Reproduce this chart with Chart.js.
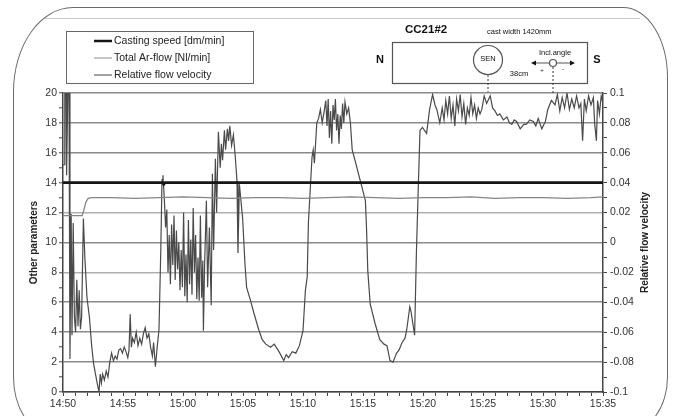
<!DOCTYPE html>
<html>
<head>
<meta charset="utf-8">
<script src="https://cdn.jsdelivr.net/npm/chart.js@4/dist/chart.umd.min.js"></script>
<style>
  html, body { margin: 0; padding: 0; background: #fff; }
  #wrap { position: relative; width: 673px; height: 416px; overflow: hidden; }
  #frame { position: absolute; left: 13px; top: 7px; width: 655px; height: 425px;
    border: 1.3px solid #6a6a6a; border-radius: 60px 45px 40px 35px / 85px 70px 55px 55px; box-sizing: border-box; }
  #topline { position: absolute; left: 45px; top: 18px; width: 595px; height: 0; border-top: 1px solid #c8c8c8; }
  canvas { position: absolute; left: 0; top: 0; }
</style>
</head>
<body>
<div id="wrap">
  <div id="frame"></div>
  <div id="topline"></div>
  <canvas id="c" width="673" height="416"></canvas>
</div>
<script>
// ---- data (minutes after 14:50) ----
const timeLabels = ['14:50','14:55','15:00','15:05','15:10','15:15','15:20','15:25','15:30','15:35'];
const seriesNames = ['Casting speed [dm/min]', 'Total Ar-flow [Nl/min]', 'Relative flow velocity'];

const castTime  = [0, 8.3, 8.4, 8.5, 20, 30, 45];
const castSpeed = [14, 14, 13.9, 14, 14, 14, 14];

const arTime = [0, 1.6, 1.75, 1.9, 2.1, 2.4, 4, 6, 8, 10, 12, 14, 16, 18, 20, 22, 24, 26, 28, 30, 32, 34, 36, 38, 40, 42, 44, 45];
const arFlow = [11.8, 11.8, 12.2, 12.7, 12.95, 13.0, 13.0, 12.95, 13.0, 13.05, 13.0, 12.95, 13.0, 13.0, 12.95, 13.0, 13.05, 13.0, 12.95, 13.0, 13.0, 13.05, 12.95, 13.0, 13.0, 12.95, 13.0, 13.05];

const velTime = [0.00,0.10,0.15,0.25,0.30,0.40,0.50,0.58,0.68,0.75,0.85,0.95,1.05,1.15,1.25,1.35,1.45,1.55,1.70,1.82,2.00,2.20,2.40,2.55,2.80,3.00,3.10,3.20,3.30,3.45,3.60,3.75,3.90,4.05,4.20,4.35,4.50,4.65,4.80,4.95,5.10,5.25,5.40,5.50,5.60,5.70,5.80,5.95,6.10,6.25,6.40,6.55,6.70,6.85,7.00,7.15,7.30,7.45,7.55,7.70,7.85,8.00,8.15,8.25,8.33,8.45,8.55,8.65,8.75,8.85,8.95,9.05,9.15,9.25,9.35,9.45,9.55,9.65,9.75,9.85,9.95,10.05,10.15,10.25,10.35,10.45,10.55,10.65,10.75,10.85,10.95,11.05,11.15,11.25,11.35,11.45,11.55,11.65,11.70,11.80,11.95,12.05,12.20,12.35,12.45,12.55,12.70,12.80,12.95,13.10,13.20,13.30,13.45,13.55,13.70,13.80,13.90,14.05,14.20,14.35,14.50,14.58,14.70,14.97,15.17,15.30,15.60,15.90,16.30,16.60,16.90,17.30,17.60,18.00,18.40,18.60,18.80,19.10,19.40,19.70,20.00,20.20,20.35,20.45,20.60,20.75,20.85,20.95,21.15,21.30,21.45,21.60,21.75,21.90,22.00,22.10,22.20,22.30,22.40,22.50,22.60,22.70,22.80,22.90,23.00,23.10,23.20,23.30,23.40,23.50,23.65,23.80,23.95,24.10,24.30,24.75,25.20,25.30,25.40,25.60,26.00,26.40,26.75,27.00,27.25,27.50,27.80,28.00,28.25,28.50,28.65,28.90,29.00,29.15,29.30,29.45,29.60,29.75,29.95,30.30,30.55,30.80,31.00,31.15,31.40,31.60,31.75,31.90,32.05,32.20,32.35,32.50,32.65,32.80,32.95,33.10,33.25,33.40,33.55,33.70,33.85,34.00,34.15,34.30,34.45,34.60,34.75,34.90,35.10,35.30,35.60,35.80,36.00,36.20,36.40,36.70,37.00,37.20,37.40,37.60,37.80,38.10,38.40,38.60,38.90,39.20,39.40,39.60,39.90,40.20,40.40,40.70,41.00,41.20,41.40,41.60,41.80,42.00,42.20,42.40,42.60,42.80,43.00,43.15,43.30,43.45,43.60,43.80,44.00,44.20,44.30,44.45,44.55,44.70,44.85,45.00];
const velValue = [0.052,0.052,0.100,0.100,0.045,0.100,0.100,-0.078,0.019,-0.062,0.013,-0.050,-0.060,-0.025,-0.056,-0.032,-0.058,-0.050,0.016,-0.010,-0.037,-0.050,-0.070,-0.081,-0.092,-0.100,-0.088,-0.094,-0.088,-0.092,-0.086,-0.090,-0.080,-0.074,-0.079,-0.076,-0.078,-0.072,-0.071,-0.074,-0.070,-0.073,-0.077,-0.072,-0.048,-0.070,-0.064,-0.067,-0.060,-0.069,-0.064,-0.068,-0.061,-0.057,-0.064,-0.061,-0.070,-0.076,-0.067,-0.083,-0.070,-0.058,-0.005,0.042,0.045,0.028,0.010,0.022,-0.020,0.005,-0.028,0.012,-0.015,0.018,-0.025,0.008,-0.018,0.000,-0.032,-0.005,-0.030,0.020,-0.036,-0.008,-0.040,0.015,-0.028,0.002,-0.035,0.023,-0.020,0.005,-0.038,-0.010,-0.039,0.018,-0.037,-0.012,-0.059,-0.015,0.028,-0.030,0.010,-0.042,0.046,-0.005,0.056,0.020,0.074,0.050,0.066,0.055,0.075,0.062,0.076,0.068,0.078,0.065,0.072,0.058,0.041,-0.007,0.039,0.016,-0.015,-0.030,-0.038,-0.047,-0.058,-0.065,-0.068,-0.070,-0.068,-0.073,-0.079,-0.075,-0.077,-0.073,-0.074,-0.069,-0.059,-0.032,-0.023,0.013,0.035,0.057,0.062,0.053,0.080,0.083,0.089,0.080,0.087,0.095,0.078,0.096,0.070,0.088,0.066,0.092,0.082,0.096,0.075,0.086,0.066,0.085,0.076,0.093,0.080,0.094,0.086,0.090,0.080,0.062,0.056,0.042,0.028,0.008,-0.019,-0.041,-0.054,-0.065,-0.068,-0.069,-0.079,-0.080,-0.074,-0.072,-0.067,-0.064,-0.058,-0.043,-0.046,-0.054,-0.062,-0.007,0.035,0.075,0.077,0.073,0.089,0.099,0.092,0.089,0.080,0.090,0.082,0.095,0.086,0.098,0.083,0.092,0.078,0.096,0.088,0.099,0.084,0.093,0.079,0.090,0.085,0.097,0.086,0.092,0.083,0.090,0.086,0.089,0.098,0.093,0.098,0.090,0.088,0.085,0.086,0.082,0.084,0.080,0.079,0.082,0.081,0.076,0.079,0.079,0.082,0.081,0.078,0.083,0.076,0.081,0.089,0.095,0.092,0.099,0.088,0.097,0.090,0.100,0.089,0.096,0.090,0.098,0.090,0.093,0.068,0.096,0.088,0.098,0.092,0.097,0.080,0.068,0.095,0.086,0.098,0.093];

const leftTicks = [0, 20, 2];        // min, max, labelled step
const rightTicks = [-0.1, 0.1, 0.02];
const lightGridValues = [8, 12];

const colCast = '#161616', colAr = '#858585', colVel = '#4a4a4a';

function pts(xs, ys) { return xs.map((x, i) => ({ x: x, y: ys[i] })); }

function fmtTime(m) {
  const total = 14 * 60 + 50 + m;
  const h = Math.floor(total / 60), mm = total % 60;
  return h + ':' + String(mm).padStart(2, '0');
}

const decor = {
  id: 'decor',
  afterDraw(chart) {
    const ctx = chart.ctx;
    const area = chart.chartArea;
    ctx.save();
    // axis titles
    ctx.fillStyle = '#222';
    ctx.font = 'bold 10px "Liberation Sans", Arial, sans-serif';
    ctx.textAlign = 'center'; ctx.textBaseline = 'middle';
    const cy = (area.top + area.bottom) / 2;
    ctx.save(); ctx.translate(34, cy); ctx.rotate(-Math.PI / 2); ctx.fillText('Other parameters', 0, 0); ctx.restore();
    ctx.save(); ctx.translate(645, cy); ctx.rotate(-Math.PI / 2); ctx.fillText('Relative flow velocity', 0, 0); ctx.restore();

    // legend box
    ctx.fillStyle = '#fff';
    ctx.fillRect(66, 31, 187, 52);
    ctx.strokeStyle = '#666'; ctx.lineWidth = 1;
    ctx.strokeRect(66.5, 31.5, 187, 52);
    const cols = [colCast, '#a8a8a8', '#707070'], widths = [2.5, 1.3, 1.3], ys = [41, 58, 75];
    ctx.font = '10.5px "Liberation Sans", Arial, sans-serif';
    ctx.textAlign = 'left';
    for (let i = 0; i < 3; i++) {
      ctx.strokeStyle = cols[i]; ctx.lineWidth = widths[i];
      ctx.beginPath(); ctx.moveTo(94, ys[i]); ctx.lineTo(112, ys[i]); ctx.stroke();
      ctx.fillStyle = '#222';
      ctx.fillText(seriesNames[i], 114, ys[i]);
    }

    // CC21#2 diagram
    ctx.fillStyle = '#111';
    ctx.font = 'bold 11.5px "Liberation Sans", Arial, sans-serif';
    ctx.fillText('CC21#2', 405, 30);
    ctx.font = '7.5px "Liberation Sans", Arial, sans-serif';
    ctx.fillText('cast width 1420mm', 487, 32);
    ctx.strokeStyle = '#555'; ctx.lineWidth = 1.2;
    ctx.strokeRect(392.5, 42.5, 195, 41);
    ctx.font = 'bold 11px "Liberation Sans", Arial, sans-serif';
    ctx.textAlign = 'center';
    ctx.fillText('N', 380, 60);
    ctx.fillText('S', 597, 60);
    ctx.beginPath(); ctx.arc(488, 60, 14.5, 0, Math.PI * 2); ctx.stroke();
    ctx.font = '7.5px "Liberation Sans", Arial, sans-serif';
    ctx.fillText('SEN', 488, 59);
    ctx.fillText('38cm', 519, 74);
    ctx.fillText('Incl.angle', 555, 53);
    ctx.beginPath(); ctx.arc(553, 63, 3.5, 0, Math.PI * 2); ctx.stroke();
    ctx.lineWidth = 1;
    ctx.beginPath(); ctx.moveTo(549, 63); ctx.lineTo(533, 63); ctx.moveTo(557, 63); ctx.lineTo(573, 63); ctx.stroke();
    ctx.fillStyle = '#111';
    ctx.beginPath(); ctx.moveTo(531, 63); ctx.lineTo(536, 60.5); ctx.lineTo(536, 65.5); ctx.closePath(); ctx.fill();
    ctx.beginPath(); ctx.moveTo(575, 63); ctx.lineTo(570, 60.5); ctx.lineTo(570, 65.5); ctx.closePath(); ctx.fill();
    ctx.font = '6px "Liberation Sans", Arial, sans-serif';
    ctx.fillText('+', 542, 70);
    ctx.fillText('-', 563, 69);
    ctx.setLineDash([2, 2]); ctx.strokeStyle = '#333';
    ctx.beginPath(); ctx.moveTo(488, 75); ctx.lineTo(488, 92); ctx.moveTo(553, 67); ctx.lineTo(553, 95); ctx.stroke();
    ctx.restore();
  }
};

new Chart(document.getElementById('c'), {
  type: 'line',
  data: {
    datasets: [
      { label: seriesNames[0], data: pts(castTime, castSpeed), yAxisID: 'y', borderColor: colCast, borderWidth: 2.8 },
      { label: seriesNames[1], data: pts(arTime, arFlow), yAxisID: 'y', borderColor: colAr, borderWidth: 1.3 },
      { label: seriesNames[2], data: pts(velTime, velValue), yAxisID: 'y1', borderColor: colVel, borderWidth: 1.2 }
    ]
  },
  options: {
    responsive: false,
    devicePixelRatio: 1,
    animation: false,
    events: [],
    elements: { point: { radius: 0 }, line: { tension: 0, fill: false } },
    layout: { padding: { top: 93, left: 0, right: 0, bottom: 0 } },
    plugins: { legend: { display: false }, tooltip: { enabled: false } },
    scales: {
      x: {
        type: 'linear', min: 0, max: 45,
        afterFit(s) { s.height = 24; },
        grid: { drawOnChartArea: false, drawTicks: true, tickLength: 4, color: '#444', lineWidth: 1 },
        border: { display: true, color: '#444', width: 1.5 },
        ticks: {
          stepSize: 1, autoSkip: false, maxRotation: 0, padding: 2,
          color: '#333', font: { family: '"Liberation Sans", Arial, sans-serif', size: 10.5 },
          callback(v) { return (Math.round(v) % 5 === 0) ? fmtTime(Math.round(v)) : ''; }
        }
      },
      y: {
        position: 'left', min: leftTicks[0], max: leftTicks[1],
        afterFit(s) { s.width = 63; },
        grid: {
          drawTicks: true, tickLength: 4, tickWidth: 1, tickColor: '#444',
          color(c) {
            const v = Math.round(c.tick.value);
            if (v % leftTicks[2] !== 0) return 'rgba(0,0,0,0)';
            return lightGridValues.includes(v) ? '#b0b0b0' : '#8a8a8a';
          },
          lineWidth: 1.6
        },
        border: { display: true, color: '#444', width: 1.5 },
        ticks: {
          stepSize: 1, autoSkip: false, padding: 2,
          color: '#333', font: { family: '"Liberation Sans", Arial, sans-serif', size: 10.5 },
          callback(v) { return (Math.round(v) % leftTicks[2] === 0) ? String(Math.round(v)) : ''; }
        }
      },
      y1: {
        position: 'right', min: rightTicks[0], max: rightTicks[1],
        afterFit(s) { s.width = 70; },
        grid: { drawOnChartArea: false, drawTicks: true, tickLength: 4, tickWidth: 1, tickColor: '#444' },
        border: { display: true, color: '#444', width: 1.5 },
        ticks: {
          stepSize: 0.01, autoSkip: false, padding: 3,
          color: '#333', font: { family: '"Liberation Sans", Arial, sans-serif', size: 10.5 },
          callback(v) {
            const n = Math.round(v * 100);
            if (n % Math.round(rightTicks[2] * 100) !== 0) return '';
            return String(n / 100);
          }
        }
      }
    }
  },
  plugins: [decor]
});
</script>
</body>
</html>
